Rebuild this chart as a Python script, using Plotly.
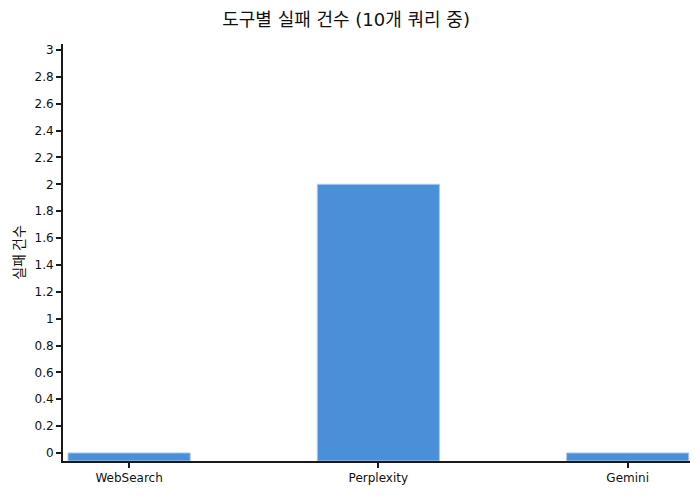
import plotly.graph_objects as go

tools = ["WebSearch", "Perplexity", "Gemini"]
failures = [0, 2, 0]

y_min = -0.06
y_max = 3.045

fig = go.Figure(data=[
    go.Bar(
        x=tools,
        y=[v - y_min for v in failures],
        base=y_min,
        width=0.49,
        marker=dict(color="#4a90d9", line=dict(color="#a9c8ec", width=1)),
        customdata=failures,
        hovertemplate="%{x}: %{customdata}<extra></extra>",
    )
])

axis_font = dict(family="DejaVu Sans, Noto Sans CJK KR", size=12, color="#111")

fig.update_layout(
    width=700, height=500,
    margin=dict(l=55, r=18, t=36, b=47),
    plot_bgcolor="white", paper_bgcolor="white",
    font=axis_font,
    title=dict(text="도구별 실패 건수 (10개 쿼리 중)", x=0.483, xanchor="center",
               y=0.976, yanchor="middle",
               font=dict(family="DejaVu Sans, Noto Sans CJK KR", size=18, color="#111")),
    showlegend=False,
)

fig.update_xaxes(
    range=[-0.265, 2.25],
    showline=True, linecolor="#1a1a1a", linewidth=2,
    ticks="outside", ticklen=5, tickcolor="#1a1a1a", tickwidth=1.5,
    showgrid=False, zeroline=False, automargin=False,
)
fig.update_yaxes(
    range=[y_min, y_max],
    tick0=0, dtick=0.2,
    showline=True, linecolor="#1a1a1a", linewidth=2,
    ticks="outside", ticklen=5, tickcolor="#1a1a1a", tickwidth=1.5,
    showgrid=False, zeroline=False, automargin=False,
    title=dict(text="실패 건수", standoff=20,
               font=dict(family="Noto Sans CJK KR", size=14, color="#111")),
)

fig.write_html("out.html")
